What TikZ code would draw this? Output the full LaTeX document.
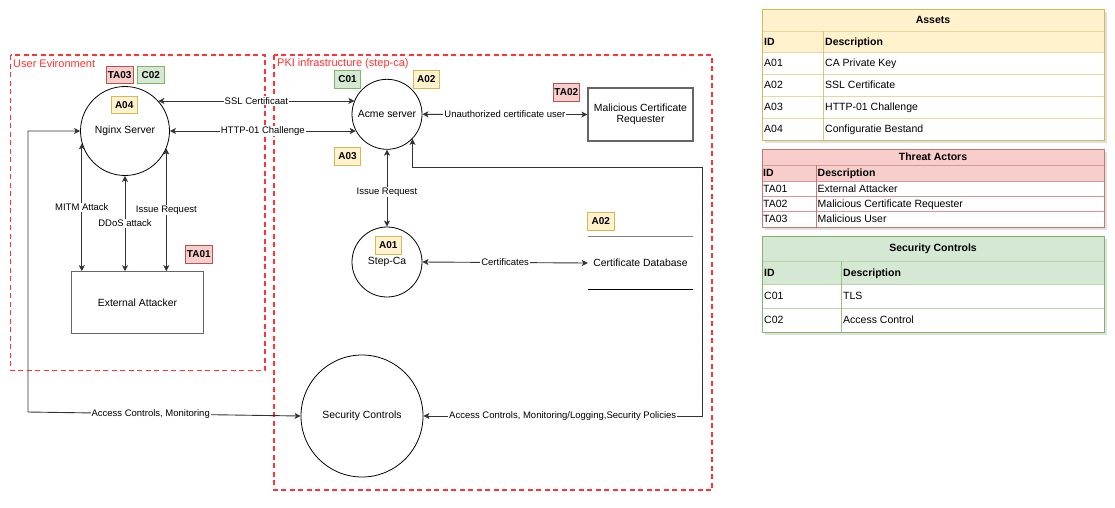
\documentclass[tikz,border=0pt]{standalone}
\usepackage{fontspec}
\setmainfont{Liberation Sans}
\usetikzlibrary{arrows.meta,calc}
\definecolor{redline}{HTML}{FF3333}
\definecolor{yfill}{HTML}{FFF2CC}
\definecolor{ydraw}{HTML}{D6B656}
\definecolor{rfill}{HTML}{F8CECC}
\definecolor{rdraw}{HTML}{B85450}
\definecolor{gfill}{HTML}{D5E8D4}
\definecolor{gdraw}{HTML}{82B366}
\definecolor{edgec}{HTML}{333333}
\definecolor{entc}{HTML}{666666}
\newcommand{\dfnode}{\fontsize{10.4}{12}\selectfont}
\newcommand{\dfedge}{\fontsize{9.5}{11}\selectfont}
\newcommand{\dftag}{\fontsize{10}{12}\selectfont\bfseries}
\newcommand{\dfzone}{\fontsize{11}{13}\selectfont}
\newcommand{\dftab}{\fontsize{10.5}{12}\selectfont}
\begin{document}
\begin{tikzpicture}[x=1pt,y=-1pt,
  zone/.style={draw=redline, line width=1.3pt, dash pattern=on 5pt off 3.5pt},
  zonelbl/.style={anchor=west, text=redline, font=\dfzone, inner sep=0pt},
  proc/.style={circle, draw=black, line width=0.8pt, inner sep=0pt, font=\dfnode},
  ent/.style={rectangle, draw=entc, line width=1.2pt, font=\dfnode, align=center},
  tagbase/.style={font=\dftag, minimum width=26.5pt, minimum height=17.5pt, inner sep=0pt, line width=0.8pt},
  tagA/.style={tagbase, draw=ydraw, fill=yfill},
  tagT/.style={tagbase, draw=rdraw, fill=rfill},
  tagC/.style={tagbase, draw=gdraw, fill=gfill},
  flow/.style={draw=edgec, line width=0.9pt, {Stealth[length=6pt,width=6pt,inset=1.5pt]}-{Stealth[length=6pt,width=6pt,inset=1.5pt]}},
  lbl/.style={fill=white, inner sep=1pt, font=\dfedge, text=black},
  cell/.style={anchor=west, font=\dftab, inner sep=0pt, text height=7.6pt, text depth=0pt},
  hcell/.style={cell, font=\dftab\bfseries},
  title/.style={font=\dftab\bfseries, inner sep=0pt, text height=7.6pt, text depth=0pt}
]
\useasboundingbox (0,0) rectangle (1115,507);
\fill[white] (0,0) rectangle (1115,507);

% zones
\draw[zone] (10.5,55) rectangle (265,370.5);
\draw[zone] (274,55) rectangle (712,490);
\node[zonelbl] (uenv) at (13,63.5) {User Evironment};
\node[zonelbl] (pki) at (277,63.5) {PKI infrastructure (step-ca)};

% processes and entities
\node[proc, minimum size=89pt] (nginx) at (125,131) {Nginx Server};
\node[proc, minimum size=70pt] (acme) at (387,114.3) {Acme server};
\node[proc, minimum size=70pt] (step) at (387,262) {Step-Ca};
\node[proc, minimum size=122pt] (sc) at (362,416) {Security Controls};
\node[ent, minimum width=131.5pt, minimum height=61.5pt] (ext) at (137.5,302.5) {External Attacker};
\node[ent, minimum width=105pt, minimum height=53pt] (mal) at (640.5,114.5) {Malicious Certificate\\[-0.5pt]Requester};
\node[font=\dfnode, minimum width=105pt, minimum height=52pt, inner sep=0pt] (db) at (640.5,263) {Certificate Database};
\draw[draw=gray, line width=1pt] (db.north west) -- (db.north east);
\draw[draw=black, line width=0.8pt] (db.south west) -- (db.south east);

% tags
\node[tagT] (ta03) at (119.7,75) {TA03};
\node[tagC] (c02) at (150.7,75) {C02};
\node[tagA] (a04) at (124.2,104.7) {A04};
\node[tagC] (c01) at (347.5,79.5) {C01};
\node[tagA] (a02) at (426.3,79.5) {A02};
\node[tagA] (a03) at (347.5,156.5) {A03};
\node[tagT] (ta02) at (566.3,92.5) {TA02};
\node[tagA] (a01) at (388.3,245.3) {A01};
\node[tagA] (a02b) at (600.7,221.3) {A02};
\node[tagT] (ta01) at (198.8,254.5) {TA01};

% connectors
\draw[flow] (nginx.42.4) -- node[lbl]{SSL Certificaat} (nginx.42.4 -| acme.157.7);
\draw[flow] (nginx.east) -- node[lbl]{HTTP-01 Challenge} (nginx.east -| acme.208.5);
\draw[flow] (acme.east) -- node[lbl]{Unauthorized certificate user} (mal.west);
\draw[flow] (acme.south) -- node[lbl,pos=0.55]{Issue Request} (step.north);
\draw[flow] (step.east) -- node[lbl]{Certificates} (db.west);
\draw[flow] (nginx.-164) -- node[lbl]{MITM Attack} (nginx.-164 |- ext.north);
\draw[flow] (nginx.south) -- node[lbl]{DDoS attack} (nginx.south |- ext.north);
\draw[flow] (nginx.-23) -- node[lbl]{Issue Request} (nginx.-23 |- ext.north);
\coordinate (lc1) at (28,131);
\coordinate (lc2) at (28,412);
\draw[flow] (nginx.west) -- (lc1) -- (lc2) -- node[lbl,pos=0.45]{Access Controls, Monitoring} (sc.west);
\coordinate (rc1) at (702,416);
\coordinate (rc2) at (702,167);
\draw[flow] (sc.east) -- node[lbl]{Access Controls, Monitoring/Logging,Security Policies} (rc1) -- (rc2) -- (acme.-44 |- rc2) -- (acme.-44);

% ---------- Assets table
\fill[black, opacity=0.12] (764.5,11.5) rectangle (1106.5,142.5);
\fill[yfill] (762,9) rectangle (1104,52);
\fill[white] (762,52) rectangle (1104,140);
\foreach \yy in {31,52,74,96,118} \draw[ydraw!55, line width=0.8pt] (762,\yy) -- (1104,\yy);
\draw[ydraw!80, line width=0.8pt] (823,31) -- (823,140);
\draw[ydraw, line width=0.9pt] (762,9) rectangle (1104,140);
\node[title] (tA) at (933,20) {Assets};
\node[hcell] (tAid) at (764,41.5) {ID};
\node[hcell] (tAde) at (825,41.5) {Description};
\node[cell] (a1i) at (764,63) {A01}; \node[cell] (a1d) at (825,63) {CA Private Key};
\node[cell] (a2i) at (764,85) {A02}; \node[cell] (a2d) at (825,85) {SSL Certificate};
\node[cell] (a3i) at (764,107) {A03}; \node[cell] (a3d) at (825,107) {HTTP-01 Challenge};
\node[cell] (a4i) at (764,129) {A04}; \node[cell] (a4d) at (825,129) {Configuratie Bestand};

% ---------- Threat Actors table
\fill[black, opacity=0.12] (764.5,151.5) rectangle (1106.5,229.5);
\fill[rfill] (762,149) rectangle (1104,181);
\fill[white] (762,181) rectangle (1104,227);
\foreach \yy in {165,181,196,211} \draw[rdraw!60, line width=0.8pt] (762,\yy) -- (1104,\yy);
\draw[rdraw!80, line width=0.8pt] (816,165) -- (816,227);
\draw[rdraw!80, line width=0.9pt] (762,149) rectangle (1104,227);
\node[title] (tT) at (933,157) {Threat Actors};
\node[hcell] (tTid) at (763,173) {ID};
\node[hcell] (tTde) at (817.5,173) {Description};
\node[cell] (t1i) at (763,188.5) {TA01}; \node[cell] (t1d) at (817.5,188.5) {External Attacker};
\node[cell] (t2i) at (763,203.5) {TA02}; \node[cell] (t2d) at (817.5,203.5) {Malicious Certificate Requester};
\node[cell] (t3i) at (763,219) {TA03}; \node[cell] (t3d) at (817.5,219) {Malicious User};

% ---------- Security Controls table
\fill[black, opacity=0.12] (764.5,238.5) rectangle (1106.5,334.5);
\fill[gfill] (762,236) rectangle (1104,284);
\fill[white] (762,284) rectangle (1104,332);
\foreach \yy in {261,284,308} \draw[gdraw!55, line width=0.8pt] (762,\yy) -- (1104,\yy);
\draw[gdraw!80, line width=0.8pt] (841,261) -- (841,332);
\draw[gdraw, line width=0.9pt] (762,236) rectangle (1104,332);
\node[title] (tS) at (933,248) {Security Controls};
\node[hcell] (tSid) at (764,272.5) {ID};
\node[hcell] (tSde) at (843,272.5) {Description};
\node[cell] (s1i) at (764,296) {C01}; \node[cell] (s1d) at (843,296) {TLS};
\node[cell] (s2i) at (764,320) {C02}; \node[cell] (s2d) at (843,320) {Access Control};
\end{tikzpicture}
\end{document}
